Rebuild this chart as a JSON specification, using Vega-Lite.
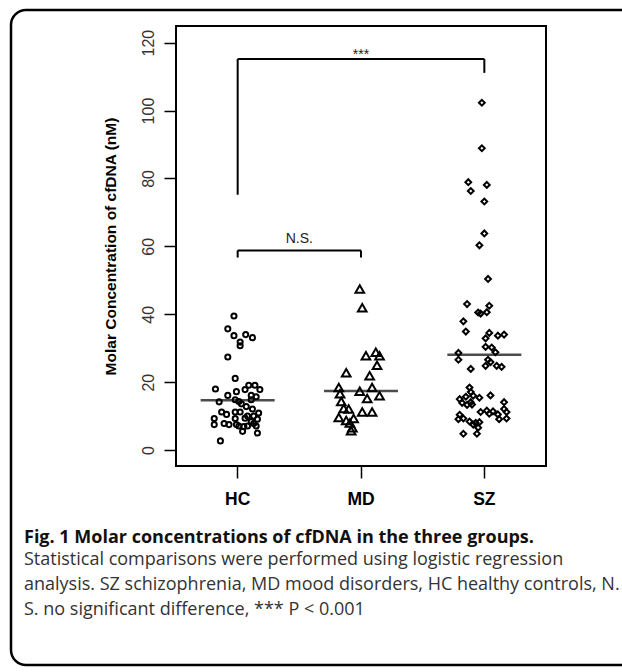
{
  "$schema": "https://vega.github.io/schema/vega-lite/v6.json",
  "width": 370,
  "height": 440,
  "autosize": {"type": "none"},
  "padding": {"left": 176, "top": 26, "right": 76, "bottom": 206},
  "background": "white",
  "config": {"view": {"stroke": "black", "strokeWidth": 2}, "font": "Liberation Sans"},
  "title": {
    "text": "Fig. 1 Molar concentrations of cfDNA in the three groups.",
    "subtitle": [
      "Statistical comparisons were performed using logistic regression",
      "analysis. SZ schizophrenia, MD mood disorders, HC healthy controls, N.",
      "S. no significant difference, *** P < 0.001"
    ],
    "orient": "bottom",
    "anchor": "start",
    "frame": "group",
    "dx": -152,
    "offset": -137,
    "font": "Open Sans",
    "fontSize": 18,
    "fontWeight": "bold",
    "color": "#111",
    "subtitleFont": "Open Sans",
    "subtitleFontSize": 18,
    "subtitleColor": "#333",
    "subtitleLineHeight": 25,
    "subtitlePadding": 4
  },
  "datasets": {
    "points": [
      {"group": "HC", "jitter": 0.02, "value": 30.7},
      {"group": "HC", "jitter": -0.08, "value": 27.4},
      {"group": "HC", "jitter": -0.02, "value": 21.1},
      {"group": "HC", "jitter": -0.18, "value": 18.0},
      {"group": "HC", "jitter": -0.08, "value": 16.1},
      {"group": "HC", "jitter": -0.01, "value": 17.2},
      {"group": "HC", "jitter": 0.06, "value": 17.8},
      {"group": "HC", "jitter": 0.09, "value": 19.1},
      {"group": "HC", "jitter": 0.14, "value": 19.1},
      {"group": "HC", "jitter": 0.18, "value": 17.8},
      {"group": "HC", "jitter": 0.11, "value": 16.1},
      {"group": "HC", "jitter": 0.15, "value": 15.7},
      {"group": "HC", "jitter": 0.11, "value": 14.8},
      {"group": "HC", "jitter": -0.15, "value": 14.2},
      {"group": "HC", "jitter": -0.02, "value": 14.8},
      {"group": "HC", "jitter": 0.01, "value": 14.3},
      {"group": "HC", "jitter": 0.03, "value": 13.6},
      {"group": "HC", "jitter": 0.07, "value": 12.8},
      {"group": "HC", "jitter": 0.12, "value": 12.1},
      {"group": "HC", "jitter": -0.13, "value": 11.2},
      {"group": "HC", "jitter": -0.09, "value": 10.5},
      {"group": "HC", "jitter": -0.02, "value": 11.2},
      {"group": "HC", "jitter": 0.02, "value": 11.2},
      {"group": "HC", "jitter": 0.17, "value": 10.9},
      {"group": "HC", "jitter": 0.08, "value": 10.0},
      {"group": "HC", "jitter": 0.13, "value": 10.0},
      {"group": "HC", "jitter": -0.19, "value": 9.3},
      {"group": "HC", "jitter": -0.02, "value": 9.3},
      {"group": "HC", "jitter": 0.06, "value": 9.4},
      {"group": "HC", "jitter": 0.16, "value": 9.1},
      {"group": "HC", "jitter": 0.11, "value": 8.4},
      {"group": "HC", "jitter": -0.19, "value": 7.5},
      {"group": "HC", "jitter": -0.11, "value": 7.8},
      {"group": "HC", "jitter": -0.07, "value": 7.5},
      {"group": "HC", "jitter": -0.01, "value": 7.5},
      {"group": "HC", "jitter": 0.01, "value": 7.1},
      {"group": "HC", "jitter": 0.08, "value": 7.1},
      {"group": "HC", "jitter": 0.15, "value": 7.1},
      {"group": "HC", "jitter": 0.13, "value": 7.8},
      {"group": "HC", "jitter": 0.05, "value": 6.9},
      {"group": "HC", "jitter": 0.04, "value": 5.5},
      {"group": "HC", "jitter": 0.16, "value": 5.0},
      {"group": "HC", "jitter": -0.14, "value": 2.7},
      {"group": "HC", "jitter": -0.03, "value": 39.5},
      {"group": "HC", "jitter": -0.08, "value": 35.7},
      {"group": "HC", "jitter": -0.03, "value": 33.7},
      {"group": "HC", "jitter": 0.065, "value": 34.0},
      {"group": "HC", "jitter": 0.12, "value": 33.1},
      {"group": "HC", "jitter": 0.02, "value": 31.8},
      {"group": "MD", "jitter": -0.01, "value": 47.4},
      {"group": "MD", "jitter": 0.01, "value": 41.9},
      {"group": "MD", "jitter": 0.04, "value": 27.8},
      {"group": "MD", "jitter": 0.12, "value": 28.8},
      {"group": "MD", "jitter": 0.15, "value": 27.8},
      {"group": "MD", "jitter": 0.13, "value": 25.0},
      {"group": "MD", "jitter": -0.12, "value": 22.8},
      {"group": "MD", "jitter": 0.07, "value": 21.9},
      {"group": "MD", "jitter": -0.18, "value": 18.4},
      {"group": "MD", "jitter": -0.01, "value": 17.3},
      {"group": "MD", "jitter": 0.09, "value": 18.4},
      {"group": "MD", "jitter": -0.17, "value": 16.6},
      {"group": "MD", "jitter": 0.05, "value": 15.2},
      {"group": "MD", "jitter": 0.15, "value": 16.0},
      {"group": "MD", "jitter": -0.16, "value": 14.3},
      {"group": "MD", "jitter": -0.14, "value": 12.2},
      {"group": "MD", "jitter": -0.10, "value": 12.1},
      {"group": "MD", "jitter": 0.01, "value": 11.2},
      {"group": "MD", "jitter": 0.09, "value": 11.2},
      {"group": "MD", "jitter": -0.18, "value": 9.6},
      {"group": "MD", "jitter": -0.12, "value": 8.7},
      {"group": "MD", "jitter": -0.06, "value": 9.3},
      {"group": "MD", "jitter": -0.09, "value": 8.0},
      {"group": "MD", "jitter": -0.08, "value": 5.7},
      {"group": "MD", "jitter": -0.07, "value": 6.6},
      {"group": "SZ", "jitter": -0.02, "value": 102.3},
      {"group": "SZ", "jitter": -0.02, "value": 88.9},
      {"group": "SZ", "jitter": -0.13, "value": 78.9},
      {"group": "SZ", "jitter": 0.02, "value": 78.1},
      {"group": "SZ", "jitter": -0.11, "value": 76.3},
      {"group": "SZ", "jitter": 0.0, "value": 73.2},
      {"group": "SZ", "jitter": 0.0, "value": 63.8},
      {"group": "SZ", "jitter": -0.04, "value": 60.3},
      {"group": "SZ", "jitter": 0.03, "value": 50.4},
      {"group": "SZ", "jitter": -0.14, "value": 43.0},
      {"group": "SZ", "jitter": 0.04, "value": 42.5},
      {"group": "SZ", "jitter": -0.05, "value": 40.5},
      {"group": "SZ", "jitter": 0.02, "value": 40.6},
      {"group": "SZ", "jitter": -0.03, "value": 40.2},
      {"group": "SZ", "jitter": -0.17, "value": 37.9},
      {"group": "SZ", "jitter": -0.15, "value": 34.9},
      {"group": "SZ", "jitter": 0.04, "value": 34.5},
      {"group": "SZ", "jitter": 0.11, "value": 33.7},
      {"group": "SZ", "jitter": 0.16, "value": 34.0},
      {"group": "SZ", "jitter": 0.01, "value": 32.9},
      {"group": "SZ", "jitter": 0.01, "value": 30.4},
      {"group": "SZ", "jitter": 0.06, "value": 30.2},
      {"group": "SZ", "jitter": 0.09, "value": 28.8},
      {"group": "SZ", "jitter": -0.21, "value": 28.6},
      {"group": "SZ", "jitter": -0.21, "value": 26.6},
      {"group": "SZ", "jitter": 0.03, "value": 26.6},
      {"group": "SZ", "jitter": 0.05, "value": 25.9},
      {"group": "SZ", "jitter": 0.01, "value": 24.8},
      {"group": "SZ", "jitter": 0.10, "value": 24.8},
      {"group": "SZ", "jitter": 0.14, "value": 24.5},
      {"group": "SZ", "jitter": -0.11, "value": 23.9},
      {"group": "SZ", "jitter": -0.12, "value": 18.4},
      {"group": "SZ", "jitter": -0.11, "value": 17.1},
      {"group": "SZ", "jitter": 0.05, "value": 16.1},
      {"group": "SZ", "jitter": -0.20, "value": 15.0},
      {"group": "SZ", "jitter": -0.15, "value": 15.7},
      {"group": "SZ", "jitter": -0.09, "value": 16.0},
      {"group": "SZ", "jitter": -0.04, "value": 15.4},
      {"group": "SZ", "jitter": -0.18, "value": 13.9},
      {"group": "SZ", "jitter": -0.11, "value": 14.1},
      {"group": "SZ", "jitter": -0.10, "value": 13.4},
      {"group": "SZ", "jitter": -0.14, "value": 13.3},
      {"group": "SZ", "jitter": 0.16, "value": 14.1},
      {"group": "SZ", "jitter": 0.16, "value": 12.1},
      {"group": "SZ", "jitter": -0.03, "value": 11.2},
      {"group": "SZ", "jitter": 0.02, "value": 11.6},
      {"group": "SZ", "jitter": 0.04, "value": 10.7},
      {"group": "SZ", "jitter": 0.07, "value": 11.4},
      {"group": "SZ", "jitter": 0.18, "value": 11.2},
      {"group": "SZ", "jitter": 0.11, "value": 10.5},
      {"group": "SZ", "jitter": -0.20, "value": 10.4},
      {"group": "SZ", "jitter": -0.17, "value": 9.3},
      {"group": "SZ", "jitter": -0.12, "value": 8.4},
      {"group": "SZ", "jitter": -0.07, "value": 8.0},
      {"group": "SZ", "jitter": -0.04, "value": 8.2},
      {"group": "SZ", "jitter": 0.12, "value": 9.1},
      {"group": "SZ", "jitter": 0.18, "value": 9.3},
      {"group": "SZ", "jitter": -0.21, "value": 9.1},
      {"group": "SZ", "jitter": -0.05, "value": 6.6},
      {"group": "SZ", "jitter": -0.17, "value": 4.8},
      {"group": "SZ", "jitter": -0.06, "value": 4.8},
      {"group": "SZ", "jitter": -0.09, "value": 7.5}
    ],
    "medians": [
      {"group": "HC", "median": 14.7},
      {"group": "MD", "median": 17.4},
      {"group": "SZ", "median": 28.1}
    ],
    "brackets": [
      {"from": "HC", "to": "HC", "y1": 75.2, "y2": 115.2},
      {"from": "HC", "to": "SZ", "y1": 115.2, "y2": 115.2},
      {"from": "SZ", "to": "SZ", "y1": 115.2, "y2": 111.1},
      {"from": "HC", "to": "HC", "y1": 56.7, "y2": 58.8},
      {"from": "HC", "to": "MD", "y1": 58.8, "y2": 58.8},
      {"from": "MD", "to": "MD", "y1": 58.8, "y2": 56.7}
    ],
    "labels": [
      {"group": "HC", "jitter": 0.5, "value": 62.3, "label": "N.S."},
      {"group": "MD", "jitter": 0.0, "value": 116.3, "label": "***"}
    ]
  },
  "layer": [
    {
      "data": {"values": [{}]},
      "mark": {"type": "rect", "cornerRadius": 15, "fillOpacity": 0, "stroke": "black", "strokeWidth": 2.5},
      "encoding": {
        "x": {"value": -165},
        "x2": {"value": 470},
        "y": {"value": -16},
        "y2": {"value": 639}
      }
    },
    {
      "data": {"name": "points"},
      "mark": {"type": "point", "filled": false, "strokeWidth": 2, "color": "black", "opacity": 1},
      "encoding": {
        "x": {
          "field": "group", "type": "nominal",
          "scale": {"domain": ["HC", "MD", "SZ"], "paddingInner": 0, "paddingOuter": 0},
          "axis": {
            "title": null, "labelAngle": 0, "labelFont": "Liberation Sans", "labelFontSize": 17.5,
            "labelFontWeight": "bold", "labelColor": "black", "labelPadding": 12,
            "tickSize": 12, "tickColor": "black", "tickWidth": 1.5, "domain": false, "bandPosition": 0.5
          }
        },
        "xOffset": {"field": "jitter", "type": "quantitative", "scale": {"domain": [-0.5, 0.5]}},
        "y": {
          "field": "value", "type": "quantitative",
          "scale": {"domain": [-4.7, 124.9], "nice": false, "zero": false},
          "axis": {
            "values": [0, 20, 40, 60, 80, 100, 120],
            "title": "Molar Concentration of cfDNA (nM)",
            "titleFont": "Liberation Sans", "titleFontSize": 15.5, "titleFontWeight": "bold",
            "titleColor": "black", "titlePadding": 22,
            "labelAngle": 270, "labelAlign": "center", "labelBaseline": "bottom",
            "labelFont": "Liberation Sans", "labelFontSize": 16, "labelColor": "#333", "labelPadding": 8,
            "tickSize": 12, "tickColor": "black", "tickWidth": 1.5, "domain": false, "grid": false
          }
        },
        "shape": {"field": "group", "type": "nominal", "scale": {"domain": ["HC", "MD", "SZ"], "range": ["circle", "triangle-up", "diamond"]}, "legend": null},
        "size": {"field": "group", "type": "ordinal", "scale": {"type": "ordinal", "domain": ["HC", "MD", "SZ"], "range": [26, 75, 34]}, "legend": null}
      }
    },
    {
      "data": {"name": "medians"},
      "mark": {"type": "tick", "color": "black", "thickness": 2.5, "size": 74, "orient": "horizontal"},
      "encoding": {
        "x": {"field": "group", "type": "nominal"},
        "y": {"field": "median", "type": "quantitative"}
      }
    },
    {
      "data": {"name": "brackets"},
      "mark": {"type": "rule", "color": "black", "strokeWidth": 2},
      "encoding": {
        "x": {"field": "from", "type": "nominal", "bandPosition": 0.5},
        "x2": {"field": "to", "bandPosition": 0.5},
        "y": {"field": "y1", "type": "quantitative"},
        "y2": {"field": "y2"}
      }
    },
    {
      "data": {"name": "labels"},
      "mark": {"type": "text", "font": "Liberation Sans", "fontSize": 14, "color": "#222", "baseline": "middle"},
      "encoding": {
        "x": {"field": "group", "type": "nominal"},
        "xOffset": {"field": "jitter", "type": "quantitative"},
        "y": {"field": "value", "type": "quantitative"},
        "text": {"field": "label"}
      }
    }
  ]
}
